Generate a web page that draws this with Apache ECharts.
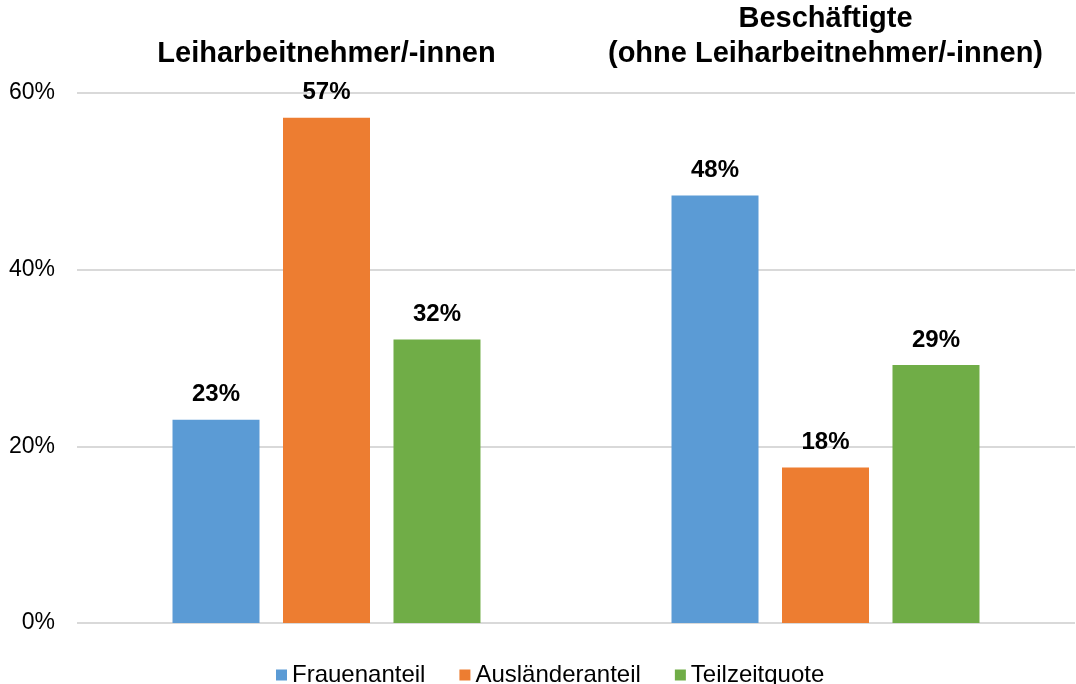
<!DOCTYPE html>
<html lang="de">
<head>
<meta charset="UTF-8">
<title>Leiharbeit</title>
<style>
  html, body { margin: 0; padding: 0; background: #fff; }
  #main { width: 1076px; height: 684px; }
</style>
<script src="https://cdn.jsdelivr.net/npm/echarts@6/dist/echarts.min.js"></script>
</head>
<body>
<div id="main"></div>
<script>
var categories = ['Leiharbeitnehmer/-innen', 'Beschäftigte\n(ohne Leiharbeitnehmer/-innen)'];
var seriesNames = ['Frauenanteil', 'Ausländeranteil', 'Teilzeitquote'];
var frauen = [23.0, 48.4];
var auslaender = [57.2, 17.6];
var teilzeit = [32.1, 29.2];
var yTicks = [0, 20, 40, 60];

var colors = ['#5B9BD5', '#ED7D31', '#70AD47'];
var font = 'Liberation Sans, Arial, sans-serif';

var chart = echarts.init(document.getElementById('main'));

function makeSeries(name, data) {
    return {
        name: name,
        type: 'bar',
        barWidth: 87,
        barGap: '27%',
        data: data,
        label: {
            show: true,
            position: 'top',
            distance: 13,
            formatter: function (p) { return Math.round(p.value) + '%'; },
            color: '#000',
            fontWeight: 'bold',
            fontSize: 24,
            fontFamily: font
        }
    };
}

chart.setOption({
    color: colors,
    animation: false,
    grid: { left: 77, right: 1, top: 93, bottom: 61 },
    legend: {
        left: 271,
        bottom: -8,
        itemWidth: 11,
        itemHeight: 11,
        itemGap: 34,
        icon: 'rect',
        textStyle: { fontSize: 24, color: '#000', fontFamily: font },
        data: seriesNames
    },
    xAxis: {
        type: 'category',
        position: 'top',
        data: categories,
        axisLine: { show: false },
        axisTick: { show: false },
        axisLabel: {
            interval: 0,
            margin: 22,
            color: '#000',
            fontWeight: 'bold',
            fontSize: 29,
            lineHeight: 35,
            fontFamily: font
        }
    },
    yAxis: {
        type: 'value',
        min: yTicks[0],
        max: yTicks[yTicks.length - 1],
        interval: 20,
        axisLine: { show: false },
        axisTick: { show: false },
        splitLine: { lineStyle: { color: '#d9d9d9', width: 2 } },
        axisLabel: {
            margin: 22,
            color: '#000',
            fontSize: 23,
            fontFamily: font,
            formatter: '{value}%'
        }
    },
    series: [
        makeSeries(seriesNames[0], frauen),
        makeSeries(seriesNames[1], auslaender),
        makeSeries(seriesNames[2], teilzeit)
    ]
});
</script>
</body>
</html>
